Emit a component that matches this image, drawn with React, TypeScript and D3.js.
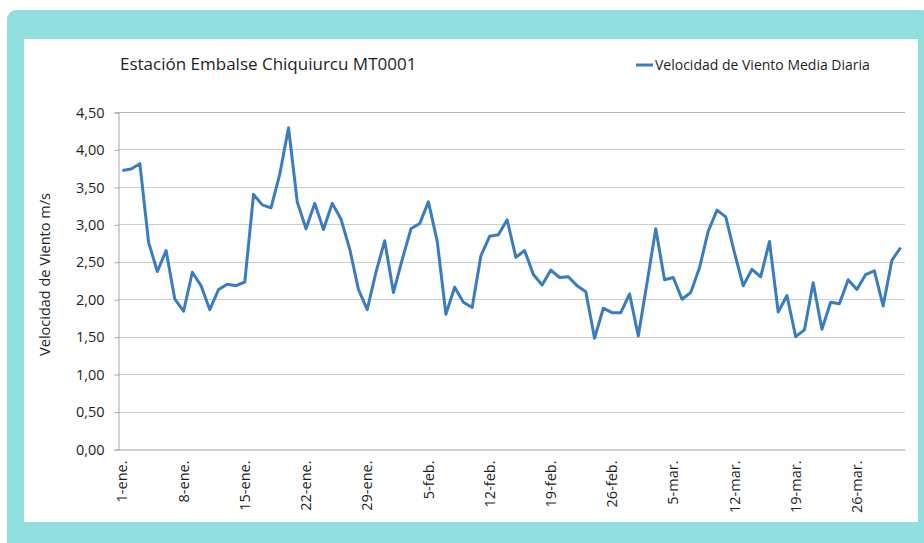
import React, { useEffect, useRef } from "react";
import * as d3 from "d3";

// velocidad de viento media diaria (m/s), 1-ene a 31-mar
const windSpeed = [
  3.72, 3.74, 3.81, 2.76, 2.37, 2.65, 2.0, 1.84, 2.36, 2.18,
  1.86, 2.13, 2.2, 2.18, 2.23, 3.4, 3.26, 3.22, 3.67, 4.29,
  3.3, 2.94, 3.28, 2.93, 3.28, 3.07, 2.67, 2.13, 1.86, 2.36,
  2.78, 2.09, 2.53, 2.94, 3.01, 3.3, 2.78, 1.8, 2.16, 1.96,
  1.89, 2.58, 2.84, 2.86, 3.06, 2.56, 2.65, 2.33, 2.19, 2.39,
  2.29, 2.3, 2.18, 2.1, 1.48, 1.88, 1.82, 1.82, 2.07, 1.51,
  2.22, 2.94, 2.26, 2.29, 2.0, 2.09, 2.42, 2.91, 3.19, 3.1,
  2.62, 2.18, 2.4, 2.3, 2.77, 1.83, 2.05, 1.5, 1.59, 2.22,
  1.6, 1.96, 1.94, 2.26, 2.13, 2.33, 2.38, 1.91, 2.52, 2.69,
];

const tickLabels = [
  "1-ene.", "8-ene.", "15-ene.", "22-ene.", "29-ene.", "5-feb.", "12-feb.",
  "19-feb.", "26-feb.", "5-mar.", "12-mar.", "19-mar.", "26-mar.",
];

const yTicks = [0, 0.5, 1, 1.5, 2, 2.5, 3, 3.5, 4, 4.5];

const title = "Estación Embalse Chiquiurcu MT0001";
const seriesName = "Velocidad de Viento Media Diaria";
const yTitle = "Velocidad de Viento m/s";

const App = () => {
  const ref = useRef<SVGSVGElement>(null);

  useEffect(() => {
    const svg = d3.select(ref.current);
    svg.selectAll("*").remove();

    const width = 924;
    const height = 543;
    const margin = { top: 112, right: 19, bottom: 94, left: 118 };
    const font = "'Open Sans', 'Noto Sans', sans-serif";
    const blue = "#3a7cc0";
    const ink = "#1e1e1e";

    // marco turquesa
    svg
      .append("rect")
      .attr("x", 7)
      .attr("y", 10)
      .attr("width", width)
      .attr("height", height)
      .attr("rx", 9)
      .attr("fill", "#90dfdf");
    svg
      .append("rect")
      .attr("x", 24)
      .attr("y", 39)
      .attr("width", 894)
      .attr("height", 483)
      .attr("fill", "#ffffff");

    const x = d3
      .scaleBand<number>()
      .domain(d3.range(windSpeed.length))
      .range([margin.left, width - margin.right]);

    const y = d3
      .scaleLinear()
      .domain([0, 4.5])
      .range([height - margin.bottom, margin.top]);

    const fmt = (v: number) => d3.format(".2f")(v).replace(".", ",");

    // grid
    svg
      .append("g")
      .selectAll("line")
      .data(yTicks.slice(1))
      .join("line")
      .attr("x1", margin.left)
      .attr("x2", width - margin.right)
      .attr("y1", (d) => Math.round(y(d)) + 0.5)
      .attr("y2", (d) => Math.round(y(d)) + 0.5)
      .attr("stroke", (d) => (d === 4.5 ? "#b4b4b4" : "#cccccc"))
      .attr("stroke-width", 1);

    // y axis
    const yAxis = d3
      .axisLeft(y)
      .tickValues(yTicks)
      .tickFormat((d) => fmt(d as number))
      .tickSize(4)
      .tickPadding(10);
    const gy = svg
      .append("g")
      .attr("transform", `translate(${margin.left + 0.5},0.5)`)
      .call(yAxis);
    gy.select(".domain").attr("stroke", "#a6a6a6");
    gy.selectAll(".tick line").attr("stroke", "#a6a6a6");
    gy.selectAll(".tick text")
      .attr("fill", ink)
      .style("font-family", font)
      .style("font-size", "14.5px");

    // x axis
    const xAxis = d3
      .axisBottom(x)
      .tickValues(tickLabels.map((_, i) => i * 7))
      .tickFormat((d) => tickLabels[(d as number) / 7])
      .tickSize(0)
      .tickSizeOuter(0);
    const gx = svg
      .append("g")
      .attr("transform", `translate(0,${height - margin.bottom + 0.5})`)
      .call(xAxis);
    gx.select(".domain").attr("stroke", "#a6a6a6");
    gx.selectAll(".tick text")
      .attr("fill", ink)
      .attr("transform", "rotate(-90)")
      .attr("text-anchor", "end")
      .attr("x", -11)
      .attr("y", 0)
      .attr("dy", "0.35em")
      .style("font-family", font)
      .style("font-size", "14.5px");

    // line
    const line = d3
      .line<number>()
      .x((_, i) => (x(i) as number) + x.bandwidth() / 2)
      .y((d) => y(d));
    svg
      .append("path")
      .datum(windSpeed)
      .attr("d", line)
      .attr("fill", "none")
      .attr("stroke", blue)
      .attr("stroke-width", 3)
      .attr("stroke-linejoin", "round");

    // title
    svg
      .append("text")
      .attr("x", 120)
      .attr("y", 70)
      .attr("fill", ink)
      .style("font-family", font)
      .style("font-size", "17px")
      .text(title);

    // legend
    svg
      .append("line")
      .attr("x1", 636)
      .attr("x2", 653)
      .attr("y1", 65)
      .attr("y2", 65)
      .attr("stroke", blue)
      .attr("stroke-width", 3);
    svg
      .append("text")
      .attr("x", 655)
      .attr("y", 70)
      .attr("fill", ink)
      .style("font-family", font)
      .style("font-size", "14px")
      .text(seriesName);

    // y title
    svg
      .append("text")
      .attr("transform", `translate(50,${(margin.top + height - margin.bottom) / 2 - 6}) rotate(-90)`)
      .attr("text-anchor", "middle")
      .attr("fill", ink)
      .style("font-family", font)
      .style("font-size", "14.5px")
      .text(yTitle);
  }, []);

  return (
    <svg
      ref={ref}
      width={924}
      height={543}
      style={{ position: "absolute", left: 0, top: 0 }}
    ></svg>
  );
};

export default App;
